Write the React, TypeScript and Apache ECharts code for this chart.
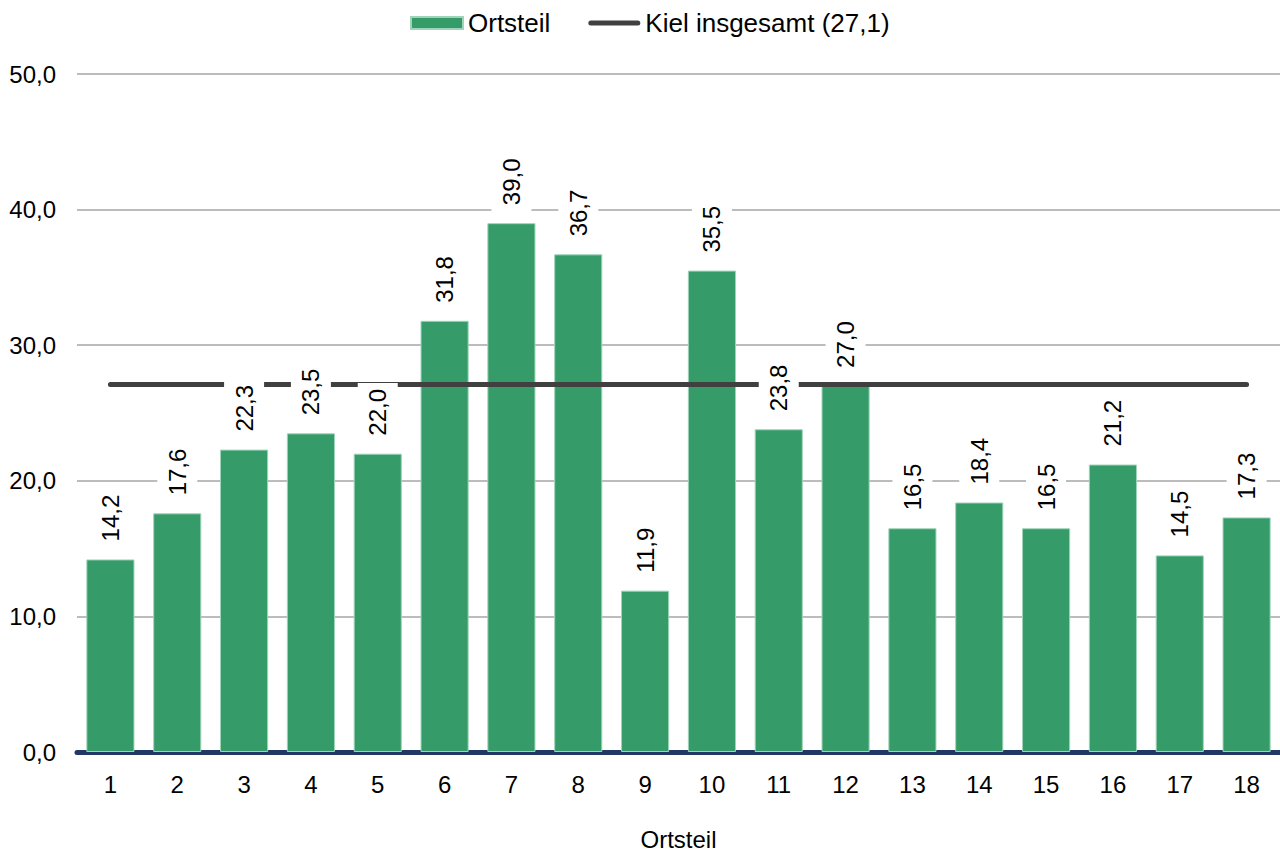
import React, { useEffect, useRef } from "react";
import * as echarts from "echarts";

const categories = ["1","2","3","4","5","6","7","8","9","10","11","12","13","14","15","16","17","18"];
const ortsteilValues = [14.2, 17.6, 22.3, 23.5, 22.0, 31.8, 39.0, 36.7, 11.9, 35.5, 23.8, 27.0, 16.5, 18.4, 16.5, 21.2, 14.5, 17.3];
const kielValues = [27.1, 27.1, 27.1, 27.1, 27.1, 27.1, 27.1, 27.1, 27.1, 27.1, 27.1, 27.1, 27.1, 27.1, 27.1, 27.1, 27.1, 27.1];
const seriesNames = ["Ortsteil", "Kiel insgesamt (27,1)"];
const xAxisName = "Ortsteil";

const fmt = (v: number) => v.toFixed(1).replace(".", ",");

const lineIcon =
  "path://M0,0 M52,12 M2.5,3.5 L49.5,3.5 A2.5,2.5 0 0 1 49.5,8.5 L2.5,8.5 A2.5,2.5 0 0 1 2.5,3.5 Z";

export default function App() {
  const ref = useRef<HTMLDivElement>(null);
  useEffect(() => {
    if (!ref.current) return;
    const chart = echarts.init(ref.current, null, { renderer: "svg" });
    const font = "Liberation Sans, Arial, sans-serif";
    chart.setOption({
      animation: false,
      textStyle: { fontFamily: font },
      legend: {
        data: [
          { name: seriesNames[0], icon: "rect" },
          { name: seriesNames[1], icon: lineIcon },
        ],
        top: 5,
        left: 405,
        itemWidth: 52,
        itemHeight: 12,
        itemGap: 38,
        itemTextGap: 5,
        textStyle: { fontSize: 26, color: "#000", fontFamily: font },
      },
      grid: { left: 77, right: 0, top: 74, bottom: 100, outerBoundsMode: "none" },
      xAxis: {
        type: "category",
        data: categories,
        name: xAxisName,
        nameLocation: "middle",
        nameGap: 75,
        nameTextStyle: { fontSize: 24, color: "#000", fontFamily: font },
        axisLine: { lineStyle: { color: "#1f3864", width: 5 } },
        axisTick: { show: false },
        axisLabel: { fontSize: 24, color: "#000", margin: 20, fontFamily: font },
      },
      yAxis: {
        type: "value",
        min: 0,
        max: 50,
        interval: 10,
        axisLine: { show: false },
        axisTick: { show: false },
        axisLabel: { fontSize: 24, color: "#000", margin: 21, formatter: (v: number) => fmt(v), fontFamily: font },
        splitLine: { lineStyle: { color: "#a6a6a6", width: 1.5 } },
      },
      series: [
        {
          name: seriesNames[0],
          type: "bar",
          data: ortsteilValues,
          barWidth: "72%",
          z: 2,
          itemStyle: { color: "#359b69", borderColor: "#9fd4ba", borderWidth: 1 },
        },
        {
          name: seriesNames[1],
          type: "line",
          data: kielValues,
          z: 3,
          symbol: "none",
          lineStyle: { color: "#404040", width: 5, cap: "round" },
          itemStyle: { color: "#404040" },
        },
        {
          name: "labels",
          type: "bar",
          data: ortsteilValues,
          barWidth: "72%",
          barGap: "-100%",
          z: 4,
          silent: true,
          itemStyle: { color: "rgba(0,0,0,0)" },
          label: {
            show: true,
            position: "top",
            rotate: 90,
            align: "left",
            verticalAlign: "middle",
            distance: 12,
            fontSize: 24,
            color: "#000",
            fontFamily: font,
            backgroundColor: "#fff",
            padding: [8, 6],
            formatter: (p: any) => fmt(p.value),
          },
        },
      ],
    });
    return () => chart.dispose();
  }, []);
  return (
    <div
      ref={ref}
      style={{ position: "absolute", left: 0, top: 0, width: 1280, height: 852 }}
    />
  );
}
